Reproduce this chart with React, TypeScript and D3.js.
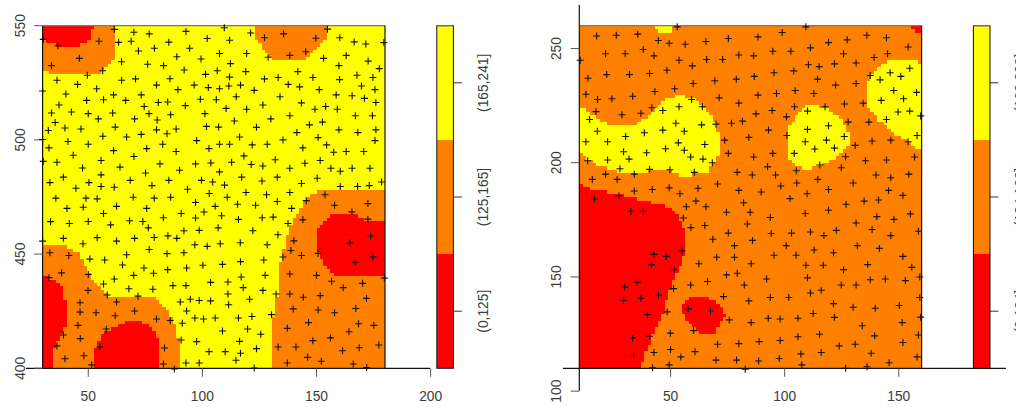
import React from "react";
import * as d3 from "d3";

const RED = "#ff0000";
const ORANGE = "#ff8000";
const YELLOW = "#ffff00";

type Pt = [number, number];

// ---------- left panel data ----------
const leftXTicks = [50, 100, 150, 200];
const leftYTicks = [400, 450, 500, 550];
const leftLegend = ["(0,125]", "(125,165]", "(165,241]"];

const leftOrangeAreas: Pt[][] = [
  [[30,550],[61.4,550],[61.4,535.3],[59.5,533.5],[54.4,529.4],[34.7,529.4],[30,530.6]],
  [[122.7,550],[155.1,550],[153.7,544.5],[149.3,539.4],[144.9,535.3],[131.8,535.3],[126.7,539.4],[123,546]],
  [[180,478.1],[151.5,478.1],[147.9,476.6],[142.8,470.7],[142,467.8],[139.1,464.2],[137.2,459],[135.2,451],[133.2,441.6],[132.5,427],[130.3,419.7],[130,400],[180,400]],
  [[30,454.4],[38.3,454.4],[46.4,450.3],[50,443],[52.9,437.2],[58.8,431.6],[79.2,431.6],[85,425.5],[87.9,419.7],[89.7,412.4],[89.7,400],[30,400]],
];
const leftRedAreas: Pt[][] = [
  [[30,550],[52.5,550],[51.5,547.4],[49.6,543],[46.4,541.3],[38.3,541.3],[33.2,542.3],[30,544]],
  [[161.7,467.5],[166.8,467.5],[171.9,464.6],[180,464.6],[180,440.4],[158.7,440.4],[153.6,444.5],[149.9,453.2],[149.9,460.5],[153.6,464.9],[157.3,467.1]],
  [[30,440.4],[34.7,439.4],[39.1,434.3],[40.2,427],[40.2,418.2],[37.6,413.9],[34.7,408],[34.7,400],[30,400]],
  [[52.5,400],[52.5,408],[56.6,415.3],[66.8,421.1],[72.7,421.1],[78.5,417.5],[80.7,412.4],[80.7,400]],
];
const leftPoints: Pt[] = [
[61.4,548.4],[70,547.1],[76.7,546.4],[92.8,547.5],[109.6,549.1],[121.1,546.8],[154.8,548.5],[30.3,544],[36.7,541.2],[54.7,543.2],[63.3,542.7],[68.8,543.2],[85.3,542.8],[102.1,544.4],[111.9,543.6],[127.2,544.7],[135.6,546.4],[149.7,544.5],[160.2,544.7],[166.5,542.9],[171.6,542],[179.5,542.6],[72,538.9],[79,540.1],[94.4,540.1],[107.5,537.8],[119.4,537.8],[145.3,538.6],[138.3,537],[128.8,536.2],[163,537],[153.1,535.7],[46.1,535.7],[64.6,534.2],[88.8,536.4],[99.4,535.4],[112.3,533.4],[172.6,534.5],[33.9,532.5],[76,533.1],[83,532.5],[159.8,532.5],[177.5,531.2],[56.3,530.3],[92,530.6],[106.5,530.3],[101.4,528.7],[119,529.9],[141.8,529.9],[49.6,528.3],[111.9,527.5],[167.7,528.3],[174.7,527.3],[148.4,527.3],[133.2,527.3],[127.2,526.7],[160.1,526.4],[36.3,526.1],[64.6,526.1],[70.7,526.7],[85.8,526.8],
[45.3,524.3],[79.9,524],[96.4,524],[102.6,522.9],[107.5,522.4],[111.6,523.6],[116.7,524],[137.6,524.3],[142.6,523.2],[169.7,523.6],[30,521.4],[53.7,522.4],[89.3,522],[122.7,521.7],[151.2,522],[175.6,522],[40.2,520.1],[73.2,519.7],[61.1,519.7],[158.6,519.7],[165.6,519.3],[171,518.2],[114.8,518.9],[134,518.9],[49.3,517.3],[56.7,517.6],[66.4,517.3],[80.7,516.4],[84.8,516.6],[99.1,517.8],[106.1,517.6],[176,516.4],[143.4,516.2],[37.2,515.3],[74.5,514.6],[92.5,515],[126.5,515.3],[110.4,513.8],[119.4,513.4],[149.3,513.4],[154,514.6],[159.1,513.4],[33.9,511.8],[42.6,512.2],[50,511.5],[60.7,511.8],[76.6,511.5],[86.1,511],[101.1,511.5],[138.3,510.6],[167,510.6],[174.5,510.6],[54.4,509.2],[70.3,509.2],[80.2,508.7],[114,508.3],[130,509.2],[35.5,507.6],[152.6,507.8],[146.9,506.6],
[101.8,505.9],[107.1,505.6],[123.7,505.5],[39.8,505.2],[46.8,504.8],[61.8,505.6],[79.9,504.4],[88.5,504.8],[159.8,504.4],[176,504.4],[32.5,504.1],[141.4,503.2],[168.1,503.2],[73.2,502.4],[84.5,502.7],[116.3,501.3],[56.4,501.6],[66.8,501.3],[150.7,501],[30,500.2],[41.1,499.3],[135.3,500],[97.5,499.7],[175.6,499.7],[50,498.1],[82.6,498.1],[107.5,498.1],[111.9,498.1],[121.8,497.8],[128.4,498.1],[154.4,497.8],[32.8,496.5],[102.9,496.2],[61.1,495.3],[75.6,496.2],[144,496.5],[88.5,494.9],[157.5,494.6],[163,494.9],[170.7,494.9],[43.4,493.3],[70,492.7],[118.2,493],[151.6,491],[131.9,491.3],[30.3,490.6],[36.3,490.2],[55.6,491],[103.7,489.9],[112.8,490.2],[144.9,489.8],[97,489.5],[81.4,489.5],[121.4,489.2],[126.5,488.6],[47.5,487.7],[63.9,488.1],[138.3,487.6],[156.3,487.6],[165.6,487.6],[173.4,487.6],[160.4,486.3],[90,486.7],[107.5,486],[75.1,485.5],[55.6,484.7],[39.1,483.7],[117.2,483.7],[132.8,483.7],[150.3,483.2],[33.2,481.3],[68.4,482.3],[85.3,482.3],[99.6,482.3],[104.5,481.6],[126.1,482],[50.3,481.3],[178.5,481.6],[143.4,480.9],[109.7,480.2],[77.9,480],[44.6,478.8],[55.6,479.6],[61.4,479.3],[160.4,479.6],[168,479.6],[173.1,480],
[93.5,478.4],[103,476.5],[119.1,477],[128.1,476],[138.3,477],[153.7,476],[35.8,474.5],[49,474.5],[53.9,474.2],[69.7,474.9],[78.9,474.5],[86.1,474.9],[110.9,474.9],[145.5,473.4],[97,472.6],[132.8,473],[115.4,471.8],[123.3,471.4],[157.9,471.4],[172.5,472.1],[62.4,470.9],[105.6,470.9],[139.1,470],[40.7,470],[47.8,470.5],[75.6,470],[165.5,468.5],[100.7,468.4],[90.7,467.8],[82.9,465.9],[97,465.8],[108.4,466.8],[115.8,465.2],[126.2,465.9],[131,466.2],[33.5,464.2],[41.7,463.4],[50,464.3],[56.7,467.8],[59.8,462.8],[68.1,464.6],[73.9,464.3],[76.3,461.5],[172.5,465.3],[144,465],[137.5,463.4],[91.9,460.2],[98.6,460.4],[106.9,461.5],[122.1,460.2],[133.1,458.5],[173.7,458],[39.1,456.9],[53.9,457.2],[62.4,455.7],[70.3,456.9],[78.9,457.3],[84.9,458],[88.8,456.9],[96.7,454.1],[102.1,453.4],[107.8,454.5],[116.6,455],[128.4,454.1],[140.1,455.8],[164.6,455],[30,455.7],[47.7,454.5],[76.7,452],[33.2,450.6],[41.5,449.4],[66.8,449.7],[84.5,450.2],[91.9,450.6],[138.8,451.6],[143.4,449.4],[150.7,450.3],[135.3,448.7],[174.7,448.8],[50.7,447.8],[57.2,447.4],[65,445.2],[126.9,447.4],[116.7,446.7],[108.8,445.5],[100.2,445.1],[167,446.4],
[74.4,443.9],[84.8,443.2],[93.1,443.9],[38.3,441.8],[50,441.1],[78.6,441.6],[69.9,440.7],[61.4,439.1],[127.5,440.7],[117,440],[138.3,441.3],[150,440.7],[179.7,439.5],[32.8,439.7],[103.6,437.6],[111.2,437.8],[156.6,438.1],[170.2,437.2],[56.7,436.9],[87.1,436.2],[92.8,436.2],[117.9,435.3],[161.7,435.3],[67.8,434.8],[78.3,434.6],[49.9,434.1],[126.5,434.1],[58.3,432.1],[71.8,431.6],[111.2,432.5],[132.3,432.5],[138.3,432.5],[144.2,431.1],[151.6,431.8],[171.9,430.6],[46.4,428.7],[62.4,429],[90.3,429],[94.7,430.2],[98.6,429.7],[103.6,429.5],[120.7,430.2],[111.5,427.8],[46.4,424.6],[53.4,424.3],[70.3,425.1],[93.1,425.1],[61.8,423],[139.8,426],[150.7,425.5],[157.9,424.3],[167.2,426.2],[130.3,423.5],[96.7,422],[100.5,421.6],[105.6,422],[115.8,422],[121.7,422.7],[79.9,421.6],[85.9,420.9],[45.5,418.8],[91.2,419.7],[146.5,420],[168.4,419.5],[175.1,418.8],[57.9,417.2],[137.2,417.5],[119.8,417.2],[108.8,416.3],[164.2,416],[39.1,414.6],[46.5,413],[125.6,414.9],[90.7,412.4],[97.5,411.7],[116.3,411.8],[148.4,412.1],[156.1,413.3],[36.3,409.8],[55.1,409.3],[83.4,408.9],[133.2,409.3],[141,409.3],[177.3,410.2],[123.7,408.6],[168.7,409],[161.4,407.7],[102.9,407.3],[110,407.3],[116.7,406.6],[48.1,405.5],[146.1,404.8],[39.8,404.2],[152.1,403.1],[114.7,403.5],[82.9,401.9],[51.5,401.5],[92.8,402.3],[98.6,402.3],[137.2,402.3],[166.1,401.9],[87.7,399.7],[122.7,400.1],[172,400.3],
];

// ---------- right panel data ----------
const rightXTicks = [50, 100, 150];
const rightYTicks = [100, 150, 200, 250];
const rightLegend = ["(0,124]", "(124,166]", "(166,209]"];

const rightYellowAreas: Pt[][] = [
  [[42.9,260],[50.7,260],[50.7,256.9],[45.3,256.9],[42.9,259]],
  [[160,243.7],[155,245.2],[147.7,245.2],[141.8,242.7],[137.5,239.1],[135.7,231.8],[136.7,224.5],[140.4,219.4],[147.7,212.8],[153.5,209.9],[157.2,206.6],[160,206.3]],
  [[113.2,225.2],[119.8,223],[124.9,219.4],[128.1,213.5],[128.1,208.4],[124.9,204],[118.3,199.7],[111,197.2],[105.2,198.2],[101.6,202.6],[101.6,215.7],[105.2,220.8],[109.6,224.8]],
  [[10,225.2],[14.7,221.6],[23.4,216.5],[33.6,216.5],[39.5,220.1],[46.8,227.7],[54.1,230],[61.4,228.1],[67.3,221.6],[70.2,215.7],[71.6,209.9],[71.6,204.1],[65.8,195.3],[54.1,194.2],[48.2,197.1],[33.6,195.6],[29.2,195.6],[21.9,197.5],[16.1,200],[11.8,204.1],[10,204.4]],
];
const rightRedAreas: Pt[][] = [
  [[155.6,260],[160,260],[160,256.9],[157,257.7]],
  [[10,190.9],[16.1,188],[22,187.3],[35.1,184.4],[49,180.7],[53.4,176.4],[56.6,169.1],[56.6,163.3],[54.8,156],[51.9,150.1],[49,142.9],[47.5,135.6],[43.9,128.3],[40.2,119.5],[37.3,112.2],[37,110],[10,110]],
  [[55.1,138.5],[58.5,141.4],[66.5,141.4],[72.3,137],[74.5,133.4],[70.2,127.5],[69.4,125.4],[62.6,125.4],[58.5,129.7],[55.1,134.7]],
];
const rightPoints: Pt[] = [
[52.9,259.5],[109.3,259.5],[17.6,255.5],[26.2,255.8],[35.6,256.3],[44.6,253.5],[49.4,252.3],[56.4,251.9],[65.5,253.1],[75.3,254.4],[88.3,255.1],[98.9,257],[136,255.8],[144.6,254.7],[154.1,250.7],[127.4,253.8],[119.2,252.6],[111.3,250.3],[21.5,247.7],[30.1,247.7],[38,249.6],[42.7,246.8],[53.7,244.9],[59.5,242.4],[65.8,245.2],[72.8,245.2],[79.9,247.2],[86.4,246.8],[94.8,248.8],[102.7,248.8],[125.8,247.7],[145.1,247.7],[139.2,246.1],[10.4,244.9],[110.4,242.9],[115.1,242.1],[121.8,243.3],[131.3,243.7],[48.4,240.5],[22,238.6],[32,238.6],[40.8,239.1],[95.3,239.4],[104,240.2],[13.8,237],[59.9,234.7],[69.4,235.9],[78.8,236.6],[86.7,237.8],[137.5,238.2],[141.8,236.3],[146.2,239.4],[150.9,237.8],[154.8,241.4],[114.4,236.6],[122.3,234],[131.3,234.7],[51.8,232.4],[43.1,231.2],[147.8,231.6],[104.6,231.6],[96.4,230.3],[112.8,230.3],[88.3,229.6],[12.9,230],[33.4,229.1],[18,227.7],[24.3,228],[59.2,227.7],[71.3,228.4],[152.1,228],[157.8,230.8],[142.3,227.3],[79.9,226.1],[126.2,225.7],[134.4,226.1],[104.3,224.5],[117.7,224.5],[53.7,224.5],[63.9,224.5],[41.8,224.1],[46.6,222.9],[17.3,222.4],[94.5,222.9],[110,222.6],[37,221.7],[28.7,221],[87.4,221.4],[149.7,222.2],[154.8,222.6],[159.6,220.5],[100.8,220.1],[14.5,218.9],[144.6,218.9],[52.3,217.3],[76.7,217.3],[81.5,218.2],[127.8,217.8],[136.9,217.8],[63.6,216.6],[69.9,216.9],[119.2,216.2],
[17.9,213.8],[46.6,214.3],[56,213.8],[92.9,214.3],[110,214.6],[38.5,213.1],[30.3,211.5],[101,211.9],[126.1,211.5],[158,211.9],[84.3,211.1],[73.7,209.9],[12.9,209.2],[22.4,209.2],[53.4,208.7],[65,208],[118.3,209.9],[109,209.2],[138.3,209.5],[146.5,209.9],[154.1,209.2],[121.8,206.4],[113.2,206],[130.9,207.6],[47.8,206.1],[56,205.5],[29.4,204.8],[39.5,204.4],[75.3,204.1],[94.8,204.1],[104.2,204.1],[58.8,202.5],[64.2,201.6],[86.4,202.5],[126.7,202.6],[156.9,202.5],[31.8,201.6],[13.7,200.9],[22.4,201.2],[135.4,200.9],[144.6,201.2],[68.3,200],[115.4,199],[92.5,198.2],[124.8,197.8],[27.8,197.4],[40.8,197.1],[49.7,196.9],[105.1,196.5],[60.4,195.8],[21.5,195],[34.1,195],[79.2,195.8],[85.8,194.6],[96,194.6],[140,194.6],[146.5,193.4],[154.4,195],[15.7,192.7],[26.6,192.7],[114.5,192.7],[70.6,190.7],[105.3,191.1],[130,191.1],[98.3,189.8],[34.1,187.6],[42,188.3],[49.4,189],[62,188.8],[119.2,188.3],[79.9,187.9],[89.7,187.2],[145.5,187.9],[54.1,186.4],[109.8,186.4],[151.8,185.7],[27.4,185.6],[16.6,184.1],[102.3,184.3],[61.1,183.2],[134.8,183.2],[141.1,183.7],[82,182.5],[126.9,181.8],[56.9,180.7],[65.5,180.7],
[32.6,178.7],[38.1,178.7],[74.5,178.3],[84.9,178.3],[109,177.8],[119.2,179.2],[93.7,176],[155.1,177.6],[140.4,176.4],[147.9,175.2],[55.6,175.8],[131.3,173.6],[83.6,173.2],[58.9,171.6],[65,172.5],[138.3,170.8],[122.6,170.4],[111.3,169.7],[103,169.2],[94.1,169],[75.3,169.2],[158.6,170],[117.2,168.1],[146.5,168.1],[68.5,166.5],[85.9,166],[78,163.7],[100.7,163.7],[131.8,163.7],[141.5,162.5],[112.9,161.8],[55,161.4],[121.4,160.6],[42.7,159.9],[48.1,159],[70.2,158.6],[78,158.6],[95.3,159.5],[105,159.5],[151.8,159],[62.4,155.8],[85.3,155.8],[41.7,155.4],[109.3,155.1],[116.9,155.1],[136.4,155.4],[155.7,154.2],[51.6,153.2],[125.8,153.2],[79.2,151.6],[74.5,150.9],[159.2,150],[110,149.6],[92.1,149.1],[137.5,148.8],[144.1,149.1],[152.9,148.4],[66.2,148],[35.4,147.7],[29.9,145.6],[58.8,146.5],[82.3,146.5],[124.8,146.5],[131.3,146.5],[51.3,144.9],[116,144.2],[111.3,143],[44.7,142.1],[73.2,141.4],[93.7,141],[101.8,141],[159.2,141],[29.4,139.8],[37,140.7],[84.3,139.5],[121.4,138.3],[130,136.7],[139.7,136.3],[150.2,137.5],[57.7,136],[67.5,135.1],[48.5,134.7],[39.9,133.5],[112.5,134],[92.8,131.9],[98,131.6],[105.8,131.9],[121.8,132.3],[159.6,132.4],[75.7,131.2],[85.3,130],[151.5,130],[134,128.6],[60.1,126.5],[49.9,125.4],[115.3,124.9],[40.8,124],[33.4,123.3],[139.4,124.2],[158.6,124.6],[105.8,123.8],[70.6,120.5],[79.9,120.8],[88.8,121.7],[98,122.2],[123.9,119.8],[130.9,120.5],[151.8,121.3],[50,118.2],[42.7,116.9],[33.8,115.6],[60.7,117.3],[54.5,115],[116,116.9],[107.1,116.3],[137.9,116.6],[158,115],[69.9,113.6],[78.9,113.6],[88.6,113.2],[97.6,114.3],[145.8,112.4],[49.4,111.5],[107.5,111.5],[42.1,110.2],[82.7,109.6],[126.7,110],[136.1,110.7],
];

const TXT = "#3c3c3c";
const FONT = "'Liberation Sans', Arial, sans-serif";
const PLOT_H = [25.7, 368.3];
const CELL = 1.5;

type Layer = { color: string; areas: Pt[][] };

function Raster({ xd, yd, base, layers, x, y }: { xd: number[]; yd: number[]; base: string; layers: Layer[]; x: any; y: any }) {
  const cells: React.ReactNode[] = [];
  const nx = Math.round((xd[1] - xd[0]) / CELL);
  const ny = Math.round((yd[1] - yd[0]) / CELL);
  for (let j = 0; j < ny; j++) {
    const yv = yd[0] + j * CELL;
    let runStart = 0;
    let runColor = "";
    const colorAt = (i: number) => {
      const p: Pt = [xd[0] + (i + 0.5) * CELL, yv + 0.5 * CELL];
      let c = base;
      for (const l of layers) if (l.areas.some((a) => d3.polygonContains(a, p))) c = l.color;
      return c;
    };
    for (let i = 0; i <= nx; i++) {
      const c = i < nx ? colorAt(i) : "";
      if (c !== runColor) {
        if (runColor) {
          cells.push(
            <rect key={`${j}-${runStart}`} x={x(xd[0] + runStart * CELL)} width={x(xd[0] + i * CELL) - x(xd[0] + runStart * CELL)}
              y={y(yv + CELL)} height={y(yv) - y(yv + CELL) + 0.3} fill={runColor} />
          );
        }
        runStart = i;
        runColor = c;
      }
    }
  }
  return <g shapeRendering="crispEdges">{cells}</g>;
}

function Panel({ xd, yd, xTicks, yTicks, px, axisX, axisYTop, axisYBottom, base, layers, points, legend, legendX }:
  { xd: number[]; yd: number[]; xTicks: number[]; yTicks: number[]; px: number[]; axisX: number[]; axisYTop: number; axisYBottom: number; base: string; layers: Layer[]; points: Pt[]; legend: string[]; legendX: number }) {
  const x = d3.scaleLinear().domain(xd).range(px);
  const y = d3.scaleLinear().domain(yd).range([PLOT_H[1], PLOT_H[0]]);
  const bottom = PLOT_H[1];
  const top = PLOT_H[0];
  const band = d3.scaleBand<string>().domain(legend).range([PLOT_H[1], PLOT_H[0]]);
  const legendColors = [RED, ORANGE, YELLOW];
  const barW = 16.6;
  const plus = "M-3.5,0H3.5M0,-3.5V3.5";
  return (
    <g fontFamily={FONT} fontSize={13.8} fill={TXT}>
      <Raster xd={xd} yd={yd} base={base} layers={layers} x={x} y={y} />
      {/* box */}
      <line x1={px[0]} x2={px[1]} y1={top} y2={top} stroke="#777" strokeWidth={1.2} />
      <line x1={px[1]} x2={px[1]} y1={top} y2={bottom} stroke="#111" strokeWidth={1.2} />
      {/* axes */}
      <line x1={axisX[0]} x2={axisX[1]} y1={bottom} y2={bottom} stroke="#111" strokeWidth={1.2} />
      <line x1={px[0]} x2={px[0]} y1={axisYTop} y2={axisYBottom} stroke="#111" strokeWidth={1.2} />
      {xTicks.map((t) => (
        <g key={t}>
          <line x1={x(t)} x2={x(t)} y1={bottom} y2={bottom + 8.5} stroke="#555" />
          <text x={x(t)} y={bottom + 33} textAnchor="middle">{t}</text>
        </g>
      ))}
      {yTicks.map((t) => (
        <g key={t}>
          <line x1={px[0] - 8.5} x2={px[0]} y1={y(t)} y2={y(t)} stroke="#555" />
          <text transform={`translate(${px[0] - 18},${y(t)}) rotate(-90)`} textAnchor="middle">{t}</text>
        </g>
      ))}
      {points.map((p, i) => (
        <path key={i} d={plus} transform={`translate(${x(p[0])},${y(p[1])})`} stroke="#111" strokeWidth={1.1} fill="none" />
      ))}
      {/* legend */}
      {legend.map((l, i) => (
        <g key={l}>
          <rect x={legendX} width={barW} y={band(l)} height={band.bandwidth()} fill={legendColors[i]} shapeRendering="crispEdges" />
          <line x1={legendX + barW} x2={legendX + barW + 8.5} y1={band(l)! + band.bandwidth() / 2} y2={band(l)! + band.bandwidth() / 2} stroke="#333" />
          <text transform={`translate(${legendX + barW + 34.5},${band(l)! + band.bandwidth() / 2}) rotate(-90)`} textAnchor="middle">{l}</text>
        </g>
      ))}
      <rect x={legendX} width={barW} y={top} height={bottom - top} fill="none" stroke="#111" strokeWidth={1} />
      <line x1={legendX} x2={legendX + barW} y1={top} y2={top} stroke="#777" strokeWidth={1.2} />
    </g>
  );
}

export default function App() {
  return (
    <svg width={1016} height={407} style={{ position: "absolute", left: 0, top: 0, background: "#fff" }}>
      <Panel xd={[30, 180]} yd={[400, 550]} xTicks={leftXTicks} yTicks={leftYTicks} px={[42.6, 385]}
        axisX={[26, 430]} axisYTop={25.7} axisYBottom={368.3} base={YELLOW}
        layers={[{ color: ORANGE, areas: leftOrangeAreas }, { color: RED, areas: leftRedAreas }]}
        points={leftPoints} legend={leftLegend} legendX={436.8} />
      <Panel xd={[10, 160]} yd={[110, 260]} xTicks={rightXTicks} yTicks={rightYTicks} px={[579.3, 921.6]}
        axisX={[563, 1006]} axisYTop={5} axisYBottom={390.7} base={ORANGE}
        layers={[{ color: YELLOW, areas: rightYellowAreas }, { color: RED, areas: rightRedAreas }]}
        points={rightPoints} legend={rightLegend} legendX={973.4} />
    </svg>
  );
}
